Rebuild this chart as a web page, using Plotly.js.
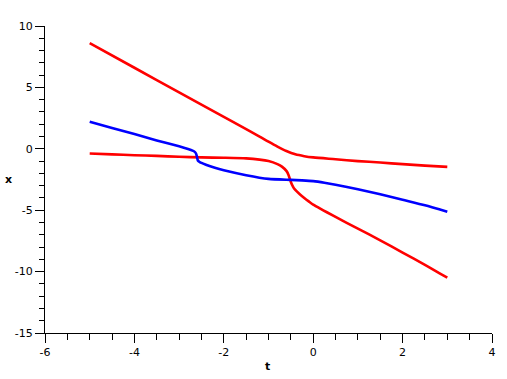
<!DOCTYPE html>
<html>
<head>
<meta charset="utf-8">
<script src="https://cdn.plot.ly/plotly-3.0.1.min.js"></script>
<style>
  html, body { margin: 0; padding: 0; background: #fff; }
  #plot { width: 507px; height: 379px; }
</style>
</head>
<body>
<div id="plot"></div>
<script>
// three branches (t on the horizontal axis, x on the vertical)
const tUpper = [-5, -4, -3, -2, -1.5, -1.2, -1.0, -0.8, -0.6, -0.4, -0.2, 0, 0.5, 1, 1.5, 2, 2.5, 3];
const xUpper = [8.6, 6.6, 4.6, 2.6, 1.6, 1.0, 0.58, 0.18, -0.18, -0.45, -0.6, -0.7, -0.85, -1.0, -1.12, -1.25, -1.37, -1.47];

const tLower = [-5, -4.5, -4, -3.5, -3, -2.5, -2, -1.5, -1.2, -1.0, -0.8, -0.7, -0.6, -0.55, -0.5, -0.45, -0.4, -0.3, -0.2, -0.1, 0, 0.5, 1, 1.5, 2, 2.5, 3];
const xLower = [-0.38, -0.45, -0.52, -0.58, -0.65, -0.7, -0.73, -0.78, -0.88, -1.0, -1.25, -1.45, -1.8, -2.15, -2.7, -3.1, -3.35, -3.7, -4.0, -4.28, -4.55, -5.55, -6.5, -7.45, -8.45, -9.45, -10.5];

const tMiddle = [-5, -4.5, -4, -3.5, -3, -2.8, -2.7, -2.65, -2.62, -2.6, -2.58, -2.55, -2.5, -2.4, -2.2, -2, -1.5, -1, -0.5, -0.25, 0, 0.25, 0.5, 1, 1.5, 2, 2.5, 3];
const xMiddle = [2.2, 1.7, 1.2, 0.68, 0.2, -0.02, -0.15, -0.25, -0.4, -0.65, -0.95, -1.05, -1.15, -1.3, -1.55, -1.75, -2.15, -2.45, -2.53, -2.57, -2.63, -2.76, -2.92, -3.3, -3.7, -4.15, -4.6, -5.13];

const xTickVals = [-6, -4, -2, 0, 2, 4];
const xTickText = ['-6', '-4', '-2', '0', '2', '4'];
const yTickVals = [-15, -10, -5, 0, 5, 10];
const yTickText = ['-15', '-10', '-5', '0', '5', '10'];

const RED = 'rgb(255,0,0)';
const BLUE = 'rgb(0,0,255)';

const traces = [
  {x: tUpper, y: xUpper, mode: 'lines', line: {color: RED, width: 2.6, shape: 'spline', smoothing: 0.8}},
  {x: tLower, y: xLower, mode: 'lines', line: {color: RED, width: 2.6, shape: 'spline', smoothing: 0.6}},
  {x: tMiddle, y: xMiddle, mode: 'lines', line: {color: BLUE, width: 2.6, shape: 'spline', smoothing: 0.6}}
];

const font = {family: 'DejaVu Sans, Verdana, sans-serif', size: 11, color: '#000'};

const axisCommon = {
  showgrid: false,
  zeroline: false,
  showline: true,
  linecolor: '#000',
  linewidth: 1,
  ticks: 'outside',
  ticklen: 9,
  tickwidth: 1,
  tickcolor: '#000',
  tickfont: font,
  tickmode: 'array',
  fixedrange: true
};

const layout = {
  width: 507,
  height: 379,
  margin: {l: 45, r: 15, t: 26, b: 46},
  paper_bgcolor: '#fff',
  plot_bgcolor: '#fff',
  showlegend: false,
  xaxis: Object.assign({}, axisCommon, {
    range: [-6, 4],
    tickvals: xTickVals, ticktext: xTickText,
    minor: {tickmode: 'linear', tick0: -6, dtick: 0.5, ticks: 'outside', ticklen: 6, tickcolor: '#000', tickwidth: 1, showgrid: false}
  }),
  yaxis: Object.assign({}, axisCommon, {
    range: [-15, 10],
    tickvals: yTickVals, ticktext: yTickText,
    minor: {tickmode: 'linear', tick0: -15, dtick: 1, ticks: 'outside', ticklen: 5, tickcolor: '#000', tickwidth: 1, showgrid: false}
  }),
  annotations: [
    {text: '<b>t</b>', xref: 'paper', yref: 'paper', x: 0.498, y: 0, yshift: -33,
     xanchor: 'center', yanchor: 'middle', showarrow: false, font: font},
    {text: '<b>x</b>', xref: 'paper', yref: 'paper', x: 0, y: 0.5, xshift: -37,
     xanchor: 'center', yanchor: 'middle', showarrow: false, font: font}
  ]
};

Plotly.newPlot('plot', traces, layout, {displayModeBar: false, staticPlot: true});
</script>
</body>
</html>
